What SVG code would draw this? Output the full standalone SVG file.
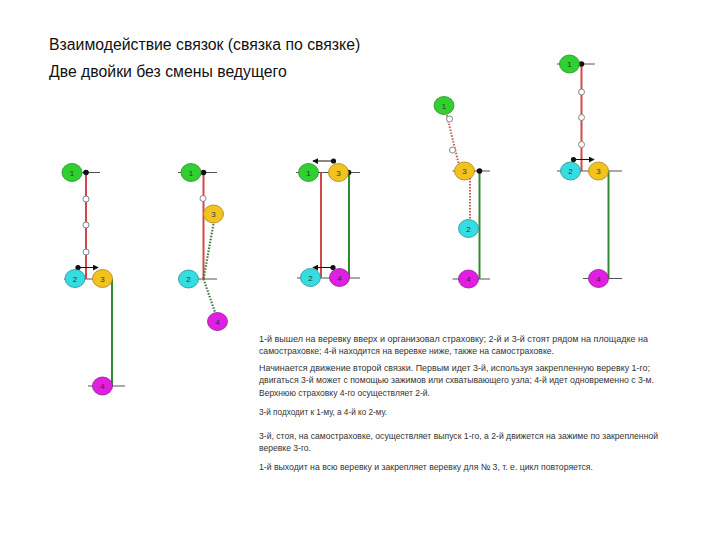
<svg xmlns="http://www.w3.org/2000/svg" width="720" height="540" viewBox="0 0 720 540">
<defs>
<marker id="ah" viewBox="0 0 8 8" refX="7" refY="4" markerWidth="6" markerHeight="6" orient="auto" markerUnits="userSpaceOnUse">
<path d="M0,0 L8,4 L0,8 Z" fill="#111"/>
</marker>
</defs>
<style>
.title{font-family:"Liberation Sans",Arial,sans-serif;font-size:15.8px;fill:#111}
.body{font-family:"Liberation Sans",Arial,sans-serif;font-size:9px;fill:#333}
.lbl{font-family:"Liberation Sans",Arial,sans-serif;font-size:8px;fill:#333;text-anchor:middle}
.g1 ellipse{fill:#2fd02f;stroke:#2a8a2a;stroke-width:0.8}
.g2 ellipse{fill:#33dde0;stroke:#2a8f99;stroke-width:0.8}
.g3 ellipse{fill:#f2c21e;stroke:#a88018;stroke-width:0.8}
.g4 ellipse{fill:#e21ee2;stroke:#8e1a8e;stroke-width:0.8}
.hl{stroke:#555;stroke-width:1;fill:none}
.red{stroke:#d24848;stroke-width:2;fill:none}
.grn{stroke:#2e8b2e;stroke-width:2;fill:none}
.rdot{stroke:#c05858;stroke-width:2;stroke-dasharray:1.5 1.5;fill:none}
.gdot{stroke:#3a7a3a;stroke-width:2.2;stroke-dasharray:1.5 1.5;fill:none}
.oc{fill:#fff;stroke:#777;stroke-width:0.9}
.bd{fill:#111}
.arr{stroke:#111;stroke-width:1;fill:none;marker-end:url(#ah)}
</style>
<rect width="720" height="540" fill="#fff"/>
<text class="title" x="49" y="49.5">Взаимодействие связок (связка по связке)</text>
<text class="title" x="49" y="76.5">Две двойки без смены ведущего</text>

<g id="connectors">
<!-- panel 1 -->
<line class="hl" x1="62" y1="172.5" x2="100" y2="172.5"/>
<line class="hl" x1="64" y1="279" x2="112" y2="279"/>
<line class="hl" x1="88" y1="386" x2="125" y2="386"/>
<line class="red" x1="86" y1="172.5" x2="86" y2="279"/>
<line class="grn" x1="112" y1="279" x2="112" y2="386"/>
<circle class="oc" cx="86" cy="199" r="3"/>
<circle class="oc" cx="86" cy="225" r="3"/>
<circle class="oc" cx="86" cy="252" r="3"/>
<circle class="bd" cx="86" cy="172.5" r="2.8"/>
<circle class="bd" cx="78" cy="267.5" r="2.6"/>
<line class="arr" x1="78" y1="267.5" x2="98" y2="267.5"/>
<!-- panel 2 -->
<line class="hl" x1="178" y1="172.5" x2="217" y2="172.5"/>
<line class="hl" x1="179" y1="279" x2="217" y2="279"/>
<line class="red" x1="203.5" y1="172.5" x2="203.5" y2="279"/>
<line class="gdot" x1="214" y1="221" x2="203.5" y2="279"/>
<line class="gdot" x1="203.5" y1="279" x2="216" y2="315"/>
<circle class="oc" cx="203" cy="198.5" r="3"/>
<circle class="bd" cx="203.5" cy="172.5" r="2.8"/>
<!-- panel 3 -->
<line class="hl" x1="296" y1="172.5" x2="360" y2="172.5"/>
<line class="hl" x1="297" y1="278" x2="360" y2="278"/>
<line class="red" x1="321" y1="172.5" x2="321" y2="278"/>
<line class="grn" x1="349" y1="172.5" x2="349" y2="278"/>
<circle class="bd" cx="348.5" cy="172.5" r="2.8"/>
<circle class="bd" cx="333.5" cy="161" r="2.6"/>
<line class="arr" x1="333.5" y1="161" x2="313" y2="161"/>
<circle class="bd" cx="333" cy="267.5" r="2.6"/>
<line class="arr" x1="333" y1="267.5" x2="313" y2="267.5"/>
<!-- panel 4 -->
<line class="hl" x1="452.5" y1="171" x2="490" y2="171"/>
<line class="hl" x1="452.5" y1="279" x2="490" y2="279"/>
<line class="rdot" x1="446" y1="112" x2="459" y2="165"/>
<line class="rdot" x1="470" y1="178" x2="470" y2="222"/>
<line class="grn" x1="479.5" y1="171" x2="479.5" y2="279"/>
<circle class="oc" cx="449.5" cy="119" r="3"/>
<circle class="oc" cx="452.5" cy="150" r="3"/>
<circle class="bd" cx="479.5" cy="171" r="2.8"/>
<!-- panel 5 -->
<line class="hl" x1="557" y1="64" x2="595" y2="64"/>
<line class="hl" x1="557" y1="171" x2="622" y2="171"/>
<line class="hl" x1="583" y1="278.5" x2="622" y2="278.5"/>
<line class="red" x1="581.5" y1="64" x2="581.5" y2="171"/>
<line class="grn" x1="608.5" y1="171" x2="608.5" y2="278.5"/>
<circle class="oc" cx="581.5" cy="92" r="3"/>
<circle class="oc" cx="581.5" cy="117.5" r="3"/>
<circle class="oc" cx="581.5" cy="144.5" r="3"/>
<circle class="bd" cx="581.5" cy="64" r="2.8"/>
<circle class="bd" cx="573.5" cy="159.5" r="2.6"/>
<line class="arr" x1="573.5" y1="159.5" x2="594" y2="159.5"/>
</g>

<!-- panel 1 nodes -->
<g id="p1n1" class="g1"><ellipse cx="72" cy="172.5" rx="10" ry="9"/><text class="lbl" x="72" y="175.5">1</text></g>
<g id="p1n2" class="g2"><ellipse cx="75" cy="278.5" rx="10" ry="9"/><text class="lbl" x="75" y="281.5">2</text></g>
<g id="p1n3" class="g3"><ellipse cx="102.5" cy="278.5" rx="10" ry="9"/><text class="lbl" x="102.5" y="281.5">3</text></g>
<g id="p1n4" class="g4"><ellipse cx="102.5" cy="386" rx="10" ry="9"/><text class="lbl" x="102.5" y="389">4</text></g>
<!-- panel 2 nodes -->
<g id="p2n1" class="g1"><ellipse cx="191" cy="172.5" rx="10" ry="9"/><text class="lbl" x="191" y="175.5">1</text></g>
<g id="p2n3" class="g3"><ellipse cx="213.5" cy="214" rx="10" ry="9"/><text class="lbl" x="213.5" y="217">3</text></g>
<g id="p2n2" class="g2"><ellipse cx="188.5" cy="279" rx="10" ry="9"/><text class="lbl" x="188.5" y="282">2</text></g>
<g id="p2n4" class="g4"><ellipse cx="217.5" cy="321.5" rx="10" ry="9"/><text class="lbl" x="217.5" y="324.5">4</text></g>
<!-- panel 3 nodes -->
<g id="p3n1" class="g1"><ellipse cx="308.5" cy="172.5" rx="10" ry="9"/><text class="lbl" x="308.5" y="175.5">1</text></g>
<g id="p3n3" class="g3"><ellipse cx="338.5" cy="172.5" rx="10" ry="9"/><text class="lbl" x="338.5" y="175.5">3</text></g>
<g id="p3n2" class="g2"><ellipse cx="310.5" cy="277.5" rx="10" ry="9"/><text class="lbl" x="310.5" y="280.5">2</text></g>
<g id="p3n4" class="g4"><ellipse cx="339.5" cy="277.5" rx="10" ry="9"/><text class="lbl" x="339.5" y="280.5">4</text></g>
<!-- panel 4 nodes -->
<g id="p4n1" class="g1"><ellipse cx="444" cy="105.5" rx="10" ry="9"/><text class="lbl" x="444" y="108.5">1</text></g>
<g id="p4n3" class="g3"><ellipse cx="464.5" cy="171" rx="10" ry="9"/><text class="lbl" x="464.5" y="174">3</text></g>
<g id="p4n2" class="g2"><ellipse cx="468.5" cy="228.5" rx="10" ry="9"/><text class="lbl" x="468.5" y="231.5">2</text></g>
<g id="p4n4" class="g4"><ellipse cx="468.5" cy="279" rx="10" ry="9"/><text class="lbl" x="468.5" y="282">4</text></g>
<!-- panel 5 nodes -->
<g id="p5n1" class="g1"><ellipse cx="569.5" cy="64" rx="10" ry="9"/><text class="lbl" x="569.5" y="67">1</text></g>
<g id="p5n2" class="g2"><ellipse cx="570.5" cy="171" rx="10" ry="9"/><text class="lbl" x="570.5" y="174">2</text></g>
<g id="p5n3" class="g3"><ellipse cx="598.5" cy="171" rx="10" ry="9"/><text class="lbl" x="598.5" y="174">3</text></g>
<g id="p5n4" class="g4"><ellipse cx="598.5" cy="278.5" rx="10" ry="9"/><text class="lbl" x="598.5" y="281.5">4</text></g>

<g id="description">
<text class="body" x="259" y="341.5" textLength="389" lengthAdjust="spacingAndGlyphs">1-й вышел на веревку вверх и организовал страховку; 2-й и 3-й стоят рядом на площадке на</text>
<text class="body" x="259" y="353.5" textLength="295" lengthAdjust="spacingAndGlyphs">самостраховке; 4-й находится на веревке ниже, также на самостраховке.</text>
<text class="body" x="259" y="370.5" textLength="391" lengthAdjust="spacingAndGlyphs">Начинается движение второй связки. Первым идет 3-й, используя закрепленную веревку 1-го;</text>
<text class="body" x="259" y="383" textLength="395" lengthAdjust="spacingAndGlyphs">двигаться 3-й может с помощью зажимов или схватывающего узла; 4-й идет одновременно с 3-м.</text>
<text class="body" x="259" y="395.5" textLength="171" lengthAdjust="spacingAndGlyphs">Верхнюю страховку 4-го осуществляет 2-й.</text>
<text class="body" x="259" y="414.5" textLength="128" lengthAdjust="spacingAndGlyphs">3-й подходит к 1-му, а 4-й ко 2-му.</text>
<text class="body" x="259" y="438.5" textLength="399" lengthAdjust="spacingAndGlyphs">3-й, стоя, на самостраховке, осуществляет выпуск 1-го, а 2-й движется на зажиме по закрепленной</text>
<text class="body" x="259" y="450.5" textLength="52" lengthAdjust="spacingAndGlyphs">веревке 3-го.</text>
<text class="body" x="259" y="469.5" textLength="334" lengthAdjust="spacingAndGlyphs">1-й выходит на всю веревку и закрепляет веревку для № 3, т. е. цикл повторяется.</text>
</g>
</svg>
